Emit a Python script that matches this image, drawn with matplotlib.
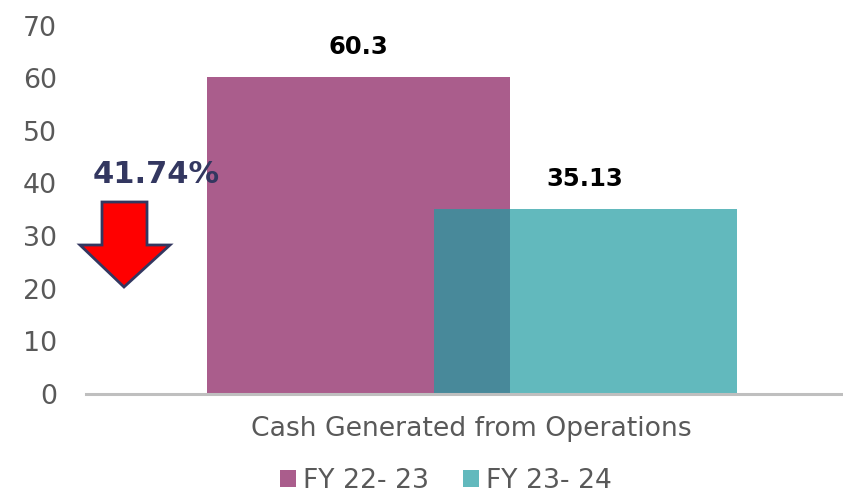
import matplotlib
matplotlib.use("Agg")
import matplotlib.pyplot as plt
from matplotlib.patches import Patch, Polygon

categories = ["Cash Generated from Operations"]
series_names = ["FY 22- 23", "FY 23- 24"]
values_fy23 = [60.3]
values_fy24 = [35.13]
change_label = "41.74%"
y_ticks = [0, 10, 20, 30, 40, 50, 60, 70]

c1 = "#AA5D8C"
c2 = "#62B9BD"
c_overlap = "#48899A"
grey_text = "#595959"
navy = "#333760"

W, H = 843, 493
fig = plt.figure(figsize=(W / 100, H / 100), dpi=100)
ax_left, ax_bottom_px, ax_top_px = 86, 394, 25.5
ax = fig.add_axes([ax_left / W, (H - ax_bottom_px) / H, (W - ax_left) / W,
                   (ax_bottom_px - ax_top_px) / H])

reg_font = ['DejaVu Sans']
bold_font = ['DejaVu Sans']

width = 0.4003
off = 0.1496
x0 = 0
ax.bar(x0 - off, values_fy23[0], width, color=c1, zorder=2)
ax.bar(x0 + off, values_fy24[0], width, color=c2, zorder=2)
# overlap region between the two bars
ov_left = x0 + off - width / 2
ov_right = x0 - off + width / 2
ax.bar((ov_left + ov_right) / 2, min(values_fy23[0], values_fy24[0]),
       ov_right - ov_left, color=c_overlap, zorder=3)

ax.set_xlim(-0.5096, 0.4904)
ax.set_ylim(0, 70)
ax.set_yticks(y_ticks)
ax.set_yticklabels([str(t) for t in y_ticks], fontsize=19.3, color=grey_text,
                   family=reg_font)
ax.set_xticks([x0])
ax.set_xticklabels(categories, fontsize=19.2, color=grey_text, family=reg_font)
ax.tick_params(axis='y', length=0, pad=21)
ax.tick_params(axis='x', length=0, pad=16)
for s in ['left', 'right', 'top']:
    ax.spines[s].set_visible(False)
ax.spines['bottom'].set_color('#BFBFBF')
ax.spines['bottom'].set_linewidth(2.2)
ax.spines['bottom'].set_zorder(4)

for xc, v, lab in [(x0 - off, values_fy23[0], "60.3"), (x0 + off, values_fy24[0], "35.13")]:
    ax.annotate(lab, (xc, v), xytext=(0, 18), textcoords='offset pixels',
                ha='center', va='bottom', fontsize=17.5, fontweight='bold',
                color='black', family=bold_font)

# change annotation
px = lambda x, y: (x / W, (H - y) / H)
fig.text(*px(93, 183), change_label, fontsize=22, fontweight='bold', color=navy,
         ha='left', va='baseline', family=bold_font)
arrow_pts = [(102, 202), (147, 202), (147, 245), (170, 245), (124, 287),
             (80, 245), (102, 245)]
arrow = Polygon([px(x, y) for x, y in arrow_pts], closed=True,
                transform=fig.transFigure, facecolor='#FF0000',
                edgecolor=navy, linewidth=2)
fig.patches.append(arrow)

handles = [Patch(facecolor=c1, edgecolor='none'), Patch(facecolor=c2, edgecolor='none')]
leg = fig.legend(handles, series_names, loc='center', bbox_to_anchor=(446 / W, (H - 481) / H),
                 ncol=2, frameon=False, handlelength=0.6, handleheight=0.6,
                 handletextpad=0.28, columnspacing=1.25,
                 prop={'family': reg_font, 'size': 19.2})
for t in leg.get_texts():
    t.set_color(grey_text)

fig.savefig("out.png", dpi=100)
